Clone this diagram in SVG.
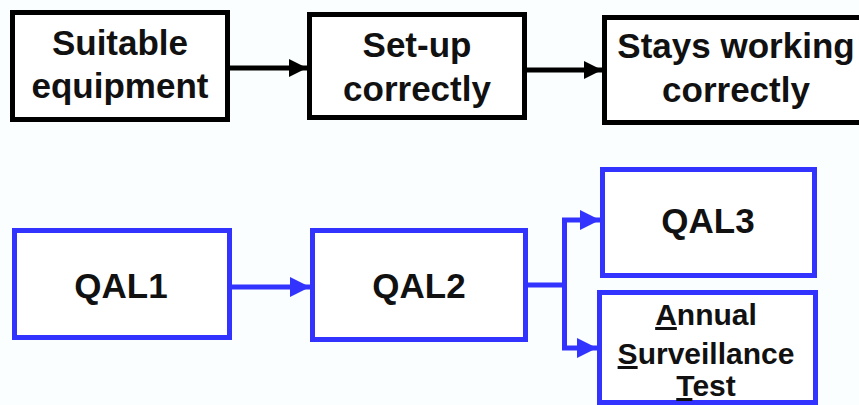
<svg xmlns="http://www.w3.org/2000/svg" width="859" height="405" viewBox="0 0 859 405">
<defs>
<style>
.bk{fill:#ffffff;stroke:#000000;stroke-width:5}
.bl{fill:#ffffff;stroke:#3333ff;stroke-width:5}
.t{font-family:"Liberation Sans",Arial,sans-serif;font-weight:bold;font-size:35px;fill:#111111;text-anchor:middle}
.ts{font-size:30px}
.ck{fill:none;stroke:#000000;stroke-width:5}
.cb{fill:none;stroke:#3333ff;stroke-width:5}
</style>
<marker id="ak" viewBox="0 0 18 18" refX="18" refY="9" markerWidth="18" markerHeight="18" markerUnits="userSpaceOnUse" orient="auto"><path d="M0,0 L18,9 L0,18 Z" fill="#000000"/></marker>
<marker id="ab" viewBox="0 0 20 20" refX="20" refY="10" markerWidth="20" markerHeight="20" markerUnits="userSpaceOnUse" orient="auto"><path d="M0,0 L20,10 L0,20 Z" fill="#3333ff"/></marker>
</defs>
<rect width="859" height="405" fill="#fafefe"/>
<g id="connectors">
<line class="ck" x1="230" y1="68" x2="307" y2="68" marker-end="url(#ak)"/>
<line class="ck" x1="527" y1="70" x2="602" y2="70" marker-end="url(#ak)"/>
<line class="cb" x1="232" y1="287" x2="310" y2="287" marker-end="url(#ab)"/>
<polyline class="cb" points="528,285 564.5,285"/>
<polyline class="cb" points="564.5,348 564.5,220 600,220" marker-end="url(#ab)"/>
<polyline class="cb" points="564.5,220 564.5,348 597,348" marker-end="url(#ab)"/>
</g>
<g id="suitable">
<rect class="bk" x="12.5" y="12.5" width="215" height="107"/>
<text class="t" x="120" y="55">Suitable</text>
<text class="t" x="120" y="98">equipment</text>
</g>
<g id="setup">
<rect class="bk" x="309.5" y="14.5" width="215" height="103"/>
<text class="t" x="417" y="57">Set-up</text>
<text class="t" x="417" y="101">correctly</text>
</g>
<g id="stays">
<rect class="bk" x="604.5" y="17.5" width="263" height="105"/>
<text class="t" x="736" y="58">Stays working</text>
<text class="t" x="736" y="102">correctly</text>
</g>
<g id="qal1">
<rect class="bl" x="14.5" y="230.5" width="215" height="107"/>
<text class="t" x="121" y="298">QAL1</text>
</g>
<g id="qal2">
<rect class="bl" x="312.5" y="230.5" width="213" height="109"/>
<text class="t" x="419" y="298">QAL2</text>
</g>
<g id="qal3">
<rect class="bl" x="602.5" y="169.5" width="212" height="106"/>
<text class="t" x="708" y="233">QAL3</text>
</g>
<g id="ast">
<rect class="bl" x="599.5" y="292.5" width="216" height="110"/>
<text class="t ts" x="706" y="325"><tspan text-decoration="underline">A</tspan>nnual</text>
<text class="t ts" x="706" y="364"><tspan text-decoration="underline">S</tspan>urveillance</text>
<text class="t ts" x="706" y="396"><tspan text-decoration="underline">T</tspan>est</text>
</g>
</svg>
